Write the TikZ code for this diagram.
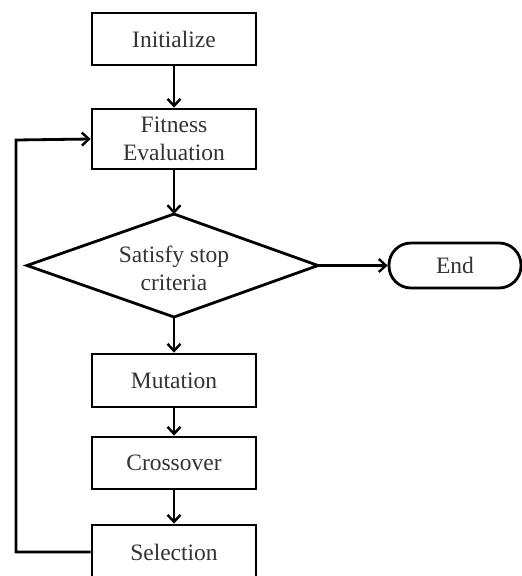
\documentclass[tikz,border=0pt]{standalone}
\usepackage{fontspec}
\setmainfont{Liberation Serif}
\usetikzlibrary{arrows.meta}
\begin{document}
\begin{tikzpicture}[x=1pt,y=-1pt,
  every node/.style={font=\fontsize{23.5}{28}\selectfont, text=black!80, align=center, inner sep=0pt},
  procbox/.style={draw, line width=2.8pt, minimum width=164pt},
  conn/.style={line width=2.8pt, -{Straight Barb[length=7pt,width=13pt,line width=2.4pt]}}]
\useasboundingbox (0,0) rectangle (522,576);
\clip (0,0) rectangle (522,576);
\node[procbox, minimum height=52pt] (init) at (174,39) {Initialize};
\node[procbox, minimum height=60pt] (fit) at (174,139) {Fitness\\Evaluation};
\coordinate (dt) at (174,214);
\coordinate (db) at (174,317);
\coordinate (dl) at (27,265.5);
\coordinate (dr) at (318,265.5);
\draw[line width=2.8pt, line join=miter] (dt) -- (dr) -- (db) -- (dl) -- cycle;
\node (dec) at (174,268) {Satisfy stop\\criteria};
\node[draw, line width=2.8pt, rounded corners=22pt, minimum width=132pt, minimum height=45pt] (end) at (455,265.5) {End};
\node[procbox, minimum height=53pt] (mut) at (174,380.5) {Mutation};
\node[procbox, minimum height=52pt] (cross) at (174,463) {Crossover};
\node[procbox, minimum height=54pt] (sel) at (174,552) {Selection};
\coordinate (lb) at (16,552);
\coordinate (lt) at (16,140);
\draw[conn] (init) -- (fit);
\draw[conn] (fit) -- (dt);
\draw[conn] (dr) -- (end);
\draw[conn] (db) -- (mut);
\draw[conn] (mut) -- (cross);
\draw[conn] (cross) -- (sel);
\draw[conn] (sel.west) -- (lb) -- (lt) -- (fit.west);
\end{tikzpicture}
\end{document}
